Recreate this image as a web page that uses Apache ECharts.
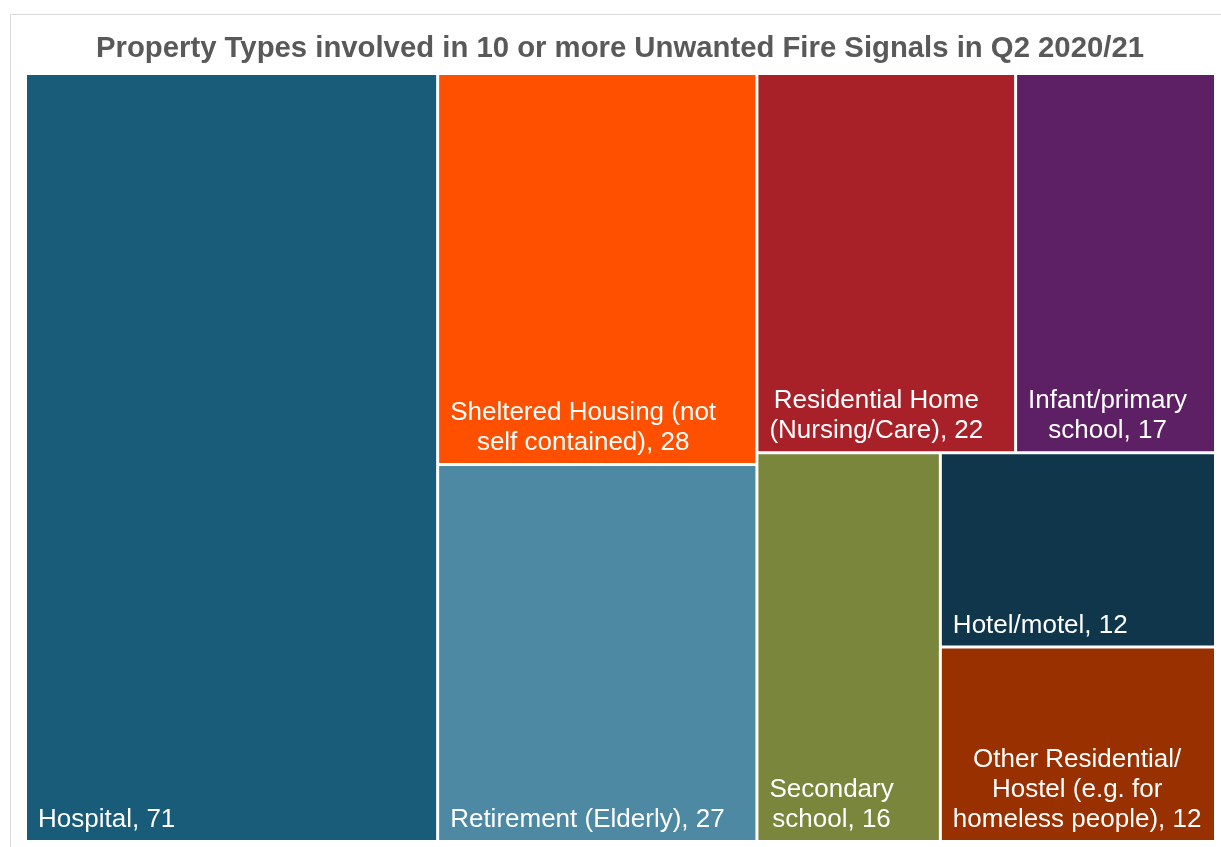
<!DOCTYPE html>
<html>
<head>
<meta charset="utf-8">
<title>Unwanted Fire Signals treemap</title>
<script src="https://cdn.jsdelivr.net/npm/echarts@6/dist/echarts.min.js"></script>
<style>
  html, body { margin: 0; padding: 0; background: #fff; }
  #chart { width: 1221px; height: 847px; }
</style>
</head>
<body>
<div id="chart"></div>
<script>
var categories = [
    'Hospital',
    'Sheltered Housing (not self contained)',
    'Retirement (Elderly)',
    'Residential Home (Nursing/Care)',
    'Infant/primary school',
    'Secondary school',
    'Hotel/motel',
    'Other Residential/ Hostel (e.g. for homeless people)'
];
var values = [71, 28, 27, 22, 17, 16, 12, 12];
// label text as it wraps in the original
var labelLines = [
    ['Hospital'],
    ['Sheltered Housing (not', 'self contained)'],
    ['Retirement (Elderly)'],
    ['Residential Home', '(Nursing/Care)'],
    ['Infant/primary', 'school'],
    ['Secondary', 'school'],
    ['Hotel/motel'],
    ['Other Residential/', 'Hostel (e.g. for', 'homeless people)']
];
var colors = ['#185C7A', '#FF5000', '#4E89A3', '#A82128', '#5E2064', '#7A863C', '#0F364B', '#983000'];

var labelFont = '26px "Liberation Sans"';
var measureCtx = document.createElement('canvas').getContext('2d');

// widest line of a label, so the lines can be centred on each other
var blockWidth = function (text) {
    measureCtx.font = labelFont;
    var w = 0;
    text.split('\n').forEach(function (line) {
        w = Math.max(w, measureCtx.measureText(line).width);
    });
    return w;
};

var chartData = categories.map(function (name, i) {
    return {
        name: name,
        value: values[i],
        lines: labelLines[i],
        itemStyle: { color: colors[i] }
    };
});

var chart = echarts.init(document.getElementById('chart'));
chart.setOption({
    animation: false,
    title: {
        text: 'Property Types involved in 10 or more Unwanted Fire Signals in Q2 2020/21',
        left: 91,
        top: 29,
        textStyle: {
            fontFamily: 'Liberation Sans',
            fontSize: 29.3,
            fontWeight: 'bold',
            color: '#595959'
        }
    },
    graphic: [{
        type: 'rect',
        silent: true,
        shape: { x: 10.5, y: 14.5, width: 1230, height: 850 },
        style: { fill: 'none', stroke: '#d9d9d9', lineWidth: 1 }
    }],
    series: [{
        type: 'treemap',
        left: 27,
        top: 75,
        width: 1187,
        height: 765,
        sort: false,
        squareRatio: 0.946,
        roam: false,
        nodeClick: false,
        breadcrumb: { show: false },
        itemStyle: { borderWidth: 0, gapWidth: 3 },
        levels: [{ itemStyle: { borderWidth: 0, gapWidth: 3 } }],
        label: {
            show: true,
            position: 'insideBottomLeft',
            distance: 10,
            padding: 0,
            color: '#fff',
            fontFamily: 'Liberation Sans',
            fontSize: 26,
            lineHeight: 30,
            formatter: function (p) {
                var lines = p.data.lines.slice();
                lines[lines.length - 1] += ', ' + p.value;
                return lines.join('\n');
            }
        },
        labelLayout: function (p) {
            return {
                x: p.rect.x + 11 + blockWidth(p.text) / 2,
                y: p.rect.y + p.rect.height - 5,
                align: 'center',
                verticalAlign: 'bottom'
            };
        },
        emphasis: { disabled: true },
        data: chartData
    }]
});
</script>
</body>
</html>
